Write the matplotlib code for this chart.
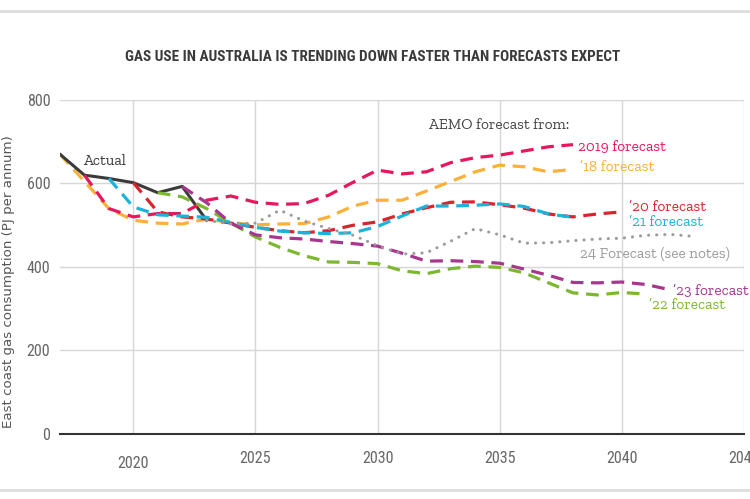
import matplotlib
matplotlib.use('Agg')
import matplotlib.pyplot as plt
import matplotlib.transforms as mtransforms
from matplotlib import font_manager
from matplotlib.lines import Line2D

# Data (PJ per annum)
actual_years = list(range(2017, 2024))
actual = [670, 620, 612, 602, 578, 593, 512]

f18_years = list(range(2017, 2039))
f18 = [670, 605, 540, 512, 505, 503, 515, 506, 501, 503, 504, 520, 546, 560, 560,
       582, 605, 628, 644, 640, 628, 634]

f19_years = list(range(2018, 2039))
f19 = [620, 540, 520, 528, 528, 560, 570, 555, 550, 552, 572, 603, 632, 623, 628,
       650, 662, 668, 678, 688, 693]

f20_years = list(range(2020, 2041))
f20 = [602, 532, 520, 515, 505, 495, 487, 482, 487, 500, 508, 527, 542, 555, 556,
       549, 541, 527, 520, 527, 532]

f21_years = list(range(2019, 2039))
f21 = [612, 544, 525, 522, 519, 507, 495, 486, 482, 480, 482, 497, 522, 546, 546,
       548, 551, 545, 527, 519]

f22_years = list(range(2021, 2042))
f22 = [578, 568, 540, 505, 472, 447, 427, 412, 411, 408, 391, 384, 396, 402, 399,
       386, 362, 338, 333, 339, 335]

f23_years = list(range(2022, 2043))
f23 = [593, 554, 505, 477, 470, 467, 461, 456, 450, 433, 414, 415, 413, 409, 395,
       380, 363, 362, 364, 358, 345]

f24_years = list(range(2023, 2044))
f24 = [512, 503, 505, 536, 510, 492, 476, 451, 431, 434, 462, 492, 477, 457, 458,
       463, 467, 469, 476, 478, 473]

x_ticks = [2020, 2025, 2030, 2035, 2040, 2045]
y_ticks = [0, 200, 400, 600, 800]

c_pink = '#e5185c'
c_orange = '#fbb03b'
c_red = '#d7262b'
c_cyan = '#1ab3d9'
c_green = '#7cb82f'
c_purple = '#a6368e'
c_gray = '#9b9b9b'
c_actual = '#3b3b3b'


def pick(cands, default):
    have = set(f.name for f in font_manager.fontManager.ttflist)
    for c in cands:
        if c in have:
            return c
    return default


narrow = pick(['Roboto Condensed', 'Liberation Sans Narrow', 'Archivo Narrow',
               'PT Sans Narrow'], 'Roboto')
slab = pick(['Roboto Slab', 'Zilla Slab'], 'DejaVu Serif')
title_size = 11 if narrow != 'Roboto' else 9
fs = 11 if slab != 'DejaVu Serif' else 9.5

fig = plt.figure(figsize=(7.5, 4.99), dpi=100)
ax = fig.add_axes([0.08, 0.1303, 0.912, 0.6693])

dash = (0, (4, 2.4))
lw = 2.3

ax.plot(f18_years, f18, color=c_orange, lw=lw, linestyle=dash, zorder=3)
ax.plot(actual_years, actual, color=c_actual, lw=2.2, zorder=4)
ax.plot(f19_years, f19, color=c_pink, lw=lw, linestyle=dash, zorder=5)
ax.plot(f21_years, f21, color=c_cyan, lw=lw, linestyle=dash, zorder=5)
ax.plot(f20_years, f20, color=c_red, lw=lw, linestyle=dash, zorder=4.5)
ax.plot(f22_years, f22, color=c_green, lw=lw, linestyle=dash, zorder=5)
ax.plot(f23_years, f23, color=c_purple, lw=lw, linestyle=dash, zorder=5)
ax.plot(f24_years, f24, color=c_gray, lw=2.2, linestyle=(0, (0.05, 2.6)),
        dash_capstyle='round', zorder=5)

ax.set_xlim(2017, 2045)
ax.set_ylim(0, 800)
ax.set_xticks(x_ticks)
ax.set_yticks(y_ticks)
ax.grid(True, color='#d6d6d6', lw=1.0)
ax.set_axisbelow(True)
for s in ['top', 'right', 'left']:
    ax.spines[s].set_visible(False)
ax.spines['bottom'].set_color('#333333')
ax.spines['bottom'].set_linewidth(1.5)
ax.spines['bottom'].set_zorder(6)
ax.tick_params(axis='both', length=0, colors='#666666', labelsize=11.5)
ax.tick_params(axis='x', pad=12)
ax.tick_params(axis='y', pad=7)
for lab in ax.get_xticklabels() + ax.get_yticklabels():
    lab.set_family(narrow)
# the 2020 label sits a little lower in the original
lab2020 = ax.get_xticklabels()[0]
lab2020.set_transform(lab2020.get_transform() +
                      mtransforms.ScaledTranslation(0, -4 / 72, fig.dpi_scale_trans))

# annotations
ax.text(2018.0, 654, 'Actual', color=c_actual, fontsize=fs, family=slab, va='center')
ax.text(2032.1, 740, 'AEMO forecast from:', color='#444444', fontsize=fs, family=slab, va='center')
ax.text(2038.2, 690, '2019 forecast', color=c_pink, fontsize=fs, family=slab, va='center')
ax.text(2038.3, 640, '\u201918 forecast', color=c_orange, fontsize=fs, family=slab, va='center')
ax.text(2040.3, 544, '\u201920 forecast', color=c_red, fontsize=fs, family=slab, va='center')
ax.text(2040.3, 508, '\u201921 forecast', color=c_cyan, fontsize=fs, family=slab, va='center')
ax.text(2038.3, 431, '24 Forecast (see notes)', color=c_gray, fontsize=fs, family=slab, va='center')
ax.text(2042.1, 345, '\u201923 forecast', color=c_purple, fontsize=fs, family=slab, va='center')
ax.text(2041.1, 309, '\u201922 forecast', color=c_green, fontsize=fs, family=slab, va='center')

fig.text(0.497, 0.886, 'GAS USE IN AUSTRALIA IS TRENDING DOWN FASTER THAN FORECASTS EXPECT',
         ha='center', va='center', fontsize=title_size, fontweight='bold', color='#3a3a3a',
         family=narrow)
fig.text(0.011, 0.436, 'East coast gas consumption (PJ per annum)', rotation=90,
         ha='center', va='center', fontsize=9.6, color='#555555')

# thin grey rules at top and bottom of the graphic
fig.add_artist(Line2D([0, 1], [0.978, 0.978], transform=fig.transFigure, color='#dddddd', lw=2))
fig.add_artist(Line2D([0, 1], [0.018, 0.018], transform=fig.transFigure, color='#dddddd', lw=2))

fig.savefig('out.png', dpi=100)
